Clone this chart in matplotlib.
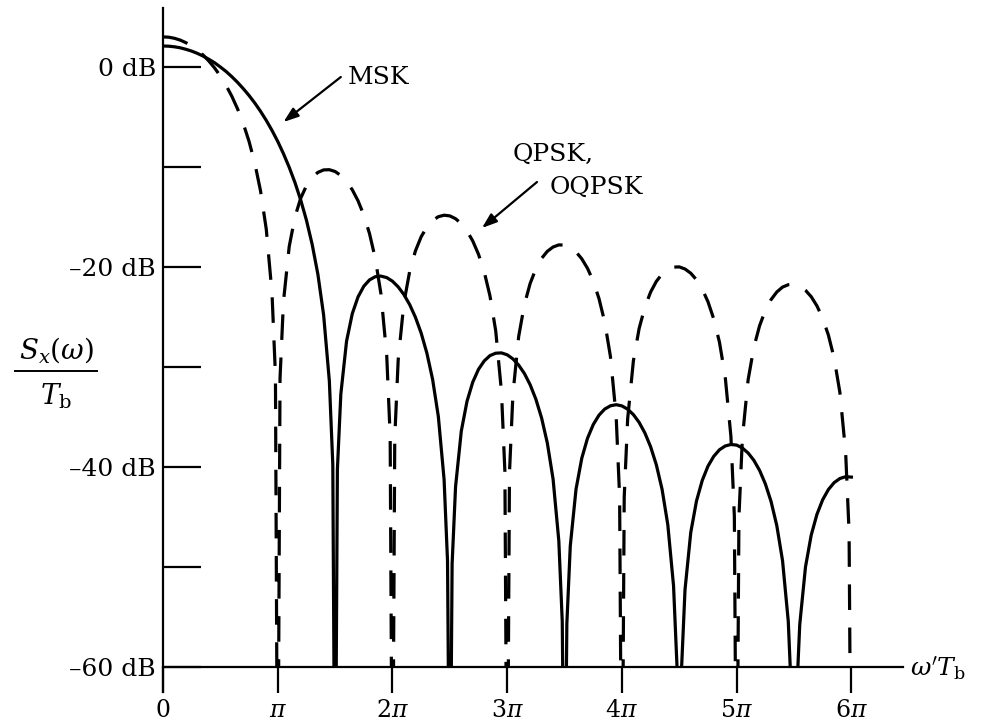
import matplotlib
matplotlib.use("Agg")
import matplotlib.pyplot as plt
from matplotlib.lines import Line2D
from matplotlib.patches import Rectangle

# frequency in units of pi (omega' * Tb / pi), power in dB
MSK_U = [
    0.0, 0.05, 0.1, 0.15, 0.2, 0.25, 0.3, 0.35, 0.4, 0.45, 0.5, 0.55, 0.6, 0.65, 0.7, 0.75,
    0.8, 0.85, 0.9, 0.95, 1.0, 1.05, 1.1, 1.15, 1.2, 1.25, 1.3, 1.35, 1.4, 1.45, 1.48, 1.5,
    1.52, 1.55, 1.6, 1.65, 1.7, 1.75, 1.8, 1.85, 1.9, 1.95, 2.0, 2.05, 2.1, 2.15, 2.2, 2.25,
    2.3, 2.35, 2.4, 2.45, 2.48, 2.5,
    2.52, 2.55, 2.6, 2.65, 2.7, 2.75, 2.8, 2.85, 2.9, 2.95, 3.0, 3.05, 3.1, 3.15, 3.2, 3.25,
    3.3, 3.35, 3.4, 3.45, 3.48, 3.5,
    3.52, 3.55, 3.6, 3.65, 3.7, 3.75, 3.8, 3.85, 3.9, 3.95, 4.0, 4.05, 4.1, 4.15, 4.2, 4.25,
    4.3, 4.35, 4.4, 4.45, 4.48, 4.5,
    4.52, 4.55, 4.6, 4.65, 4.7, 4.75, 4.8, 4.85, 4.9, 4.95, 5.0, 5.05, 5.1, 5.15, 5.2, 5.25,
    5.3, 5.35, 5.4, 5.45, 5.48, 5.5,
    5.52, 5.55, 5.6, 5.65, 5.7, 5.75, 5.8, 5.85, 5.9, 5.95, 6.0,
]
MSK_DB = [
    2.1, 2.08, 2.02, 1.92, 1.77, 1.59, 1.36, 1.09, 0.77, 0.42, 0.0, -0.45, -0.97, -1.54, -2.17, -2.85,
    -3.6, -4.43, -5.34, -6.34, -7.44, -8.67, -10.03, -11.55, -13.29, -15.31, -17.73, -20.73, -24.8, -31.41, -39.74, -80,
    -40.26, -32.71, -27.41, -24.66, -22.99, -21.93, -21.29, -20.97, -20.91, -21.06, -21.42, -21.99, -22.76, -23.76, -25.02, -26.6,
    -28.61, -31.24, -34.96, -41.25, -49.4, -80,
    -49.69, -41.97, -36.41, -33.42, -31.51, -30.23, -29.39, -28.86, -28.62, -28.59, -28.78, -29.19, -29.81, -30.65, -31.77, -33.22,
    -35.1, -37.61, -41.21, -47.38, -55.46, -80,
    -55.67, -47.89, -42.22, -39.13, -37.13, -35.76, -34.82, -34.21, -33.88, -33.77, -33.89, -34.22, -34.76, -35.54, -36.59, -37.97,
    -39.78, -42.23, -45.77, -51.88, -59.9, -80,
    -60.1, -52.27, -46.55, -43.4, -41.35, -39.92, -38.94, -38.28, -37.9, -37.75, -37.81, -38.1, -38.6, -39.33, -40.34, -41.68,
    -43.45, -45.86, -49.36, -55.43, -63.5, -80,
    -63.6, -55.75, -50.0, -46.81, -44.73, -43.27, -42.25, -41.56, -41.15, -40.97, -41.01,
]

QPSK_U = [
    0.0, 0.05, 0.1, 0.15, 0.2, 0.25, 0.3, 0.35, 0.4, 0.45, 0.5, 0.55, 0.6, 0.65, 0.7, 0.75,
    0.8, 0.85, 0.9, 0.95, 0.98, 1.0,
    1.02, 1.05, 1.1, 1.15, 1.2, 1.25, 1.3, 1.35, 1.4, 1.45, 1.5, 1.55, 1.6, 1.65, 1.7, 1.75,
    1.8, 1.85, 1.9, 1.95, 1.98, 2.0,
    2.02, 2.05, 2.1, 2.15, 2.2, 2.25, 2.3, 2.35, 2.4, 2.45, 2.5, 2.55, 2.6, 2.65, 2.7, 2.75,
    2.8, 2.85, 2.9, 2.95, 2.98, 3.0,
    3.02, 3.05, 3.1, 3.15, 3.2, 3.25, 3.3, 3.35, 3.4, 3.45, 3.5, 3.55, 3.6, 3.65, 3.7, 3.75,
    3.8, 3.85, 3.9, 3.95, 3.98, 4.0,
    4.02, 4.05, 4.1, 4.15, 4.2, 4.25, 4.3, 4.35, 4.4, 4.45, 4.5, 4.55, 4.6, 4.65, 4.7, 4.75,
    4.8, 4.85, 4.9, 4.95, 4.98, 5.0,
    5.02, 5.05, 5.1, 5.15, 5.2, 5.25, 5.3, 5.35, 5.4, 5.45, 5.5, 5.55, 5.6, 5.65, 5.7, 5.75,
    5.8, 5.85, 5.9, 5.95, 5.98, 6.0,
]
QPSK_DB = [
    3.01, 2.98, 2.87, 2.69, 2.43, 2.1, 1.69, 1.19, 0.59, -0.1, -0.91, -1.85, -2.93, -4.19, -5.67, -7.44,
    -9.61, -12.38, -16.21, -22.59, -30.8, -80,
    -31.14, -23.46, -17.96, -15.0, -13.13, -11.88, -11.05, -10.54, -10.29, -10.27, -10.45, -10.85, -11.45, -12.28, -13.38, -14.8,
    -16.66, -19.13, -22.71, -28.84, -36.9, -80,
    -37.08, -29.28, -23.57, -20.44, -18.4, -16.98, -16.01, -15.35, -14.97, -14.82, -14.89, -15.17, -15.67, -16.4, -17.4, -18.73,
    -20.49, -22.89, -26.38, -32.44, -40.45, -80,
    -40.57, -32.73, -26.96, -23.76, -21.65, -20.18, -19.14, -18.43, -18.0, -17.79, -17.81, -18.04, -18.49, -19.18, -20.13, -21.42,
    -23.15, -25.5, -28.95, -34.97, -42.97, -80,
    -43.05, -35.19, -29.39, -26.15, -24.02, -22.51, -21.44, -20.7, -20.24, -20.01, -19.99, -20.2, -20.62, -21.28, -22.21, -23.47,
    -25.18, -27.51, -30.93, -36.93, -44.91, -80,
    -44.98, -37.11, -31.28, -28.03, -25.87, -24.34, -23.26, -22.5, -22.01, -21.77, -21.74, -21.92, -22.33, -22.97, -23.89, -25.13,
    -26.82, -29.13, -32.55, -38.53, -46.5, -80,
]

Y_TICKS = [-60, -50, -40, -30, -20, -10, 0]
Y_LABELS = ["\u201360 dB", "", "\u201340 dB", "", "\u201320 dB", "", "0 dB"]
X_TICKS = [0, 1, 2, 3, 4, 5, 6]
X_LABELS = ["0", r"$\pi$", r"$2\pi$", r"$3\pi$", r"$4\pi$", r"$5\pi$", r"$6\pi$"]

W, H = 988, 727
LW = 2.3

plt.rcParams["font.family"] = ["DejaVu Serif"]
plt.rcParams["mathtext.fontset"] = "dejavuserif"

fig = plt.figure(figsize=(W / 100, H / 100), dpi=100)
ax = fig.add_axes([163 / W, 35 / H, 740 / W, 684 / H])
ax.set_xlim(0, 6.45)
ax.set_ylim(-62.5, 5.9)

for side in ("top", "right"):
    ax.spines[side].set_visible(False)
ax.spines["bottom"].set_position(("data", -60))
ax.spines["left"].set_linewidth(1.6)
ax.spines["bottom"].set_linewidth(1.6)

ax.set_yticks(Y_TICKS, Y_LABELS, fontsize=18)
ax.set_xticks(X_TICKS, X_LABELS, fontsize=17)
ax.tick_params(axis="y", direction="in", length=27, width=1.6, pad=5)
ax.tick_params(axis="x", direction="out", length=19, width=1.6, pad=4)

clip = Rectangle((0, -60), 7, 70, transform=ax.transData)

(msk,) = ax.plot(MSK_U, MSK_DB, color="black", lw=LW, solid_joinstyle="round")
(qpsk,) = ax.plot(QPSK_U, QPSK_DB, color="black", lw=LW, dashes=(8, 5.5))
msk.set_clip_path(clip)
qpsk.set_clip_path(clip)

# annotations
arrow = dict(arrowstyle="-|>,head_length=0.9,head_width=0.32",
             color="black", lw=1.6, shrinkA=0, shrinkB=0)
ax.annotate("", xy=(1.05, -5.5), xytext=(1.55, -1.0), arrowprops=arrow)
fig.text(348 / W, 1 - 78 / H, "MSK", fontsize=18, ha="left", va="center")

ax.annotate("", xy=(2.78, -16.1), xytext=(3.26, -11.5), arrowprops=arrow)
fig.text(513 / W, 1 - 154 / H, "QPSK,", fontsize=18, ha="left", va="center")
fig.text(550 / W, 1 - 187 / H, "OQPSK", fontsize=18, ha="left", va="center")

fig.text(910 / W, 1 - 668 / H, r"$\omega' T_{\mathrm{b}}$", fontsize=18, ha="left", va="center")

# y label as a stacked fraction
fig.text(56 / W, 1 - 350 / H, r"$S_x(\omega)$", fontsize=20, ha="center", va="center")
fig.add_artist(Line2D([15 / W, 97 / W], [1 - 371 / H] * 2, color="black", lw=1.4,
                      transform=fig.transFigure))
fig.text(56 / W, 1 - 396 / H, r"$T_{\mathrm{b}}$", fontsize=20, ha="center", va="center")

fig.savefig("out.png", dpi=100, facecolor="white")
